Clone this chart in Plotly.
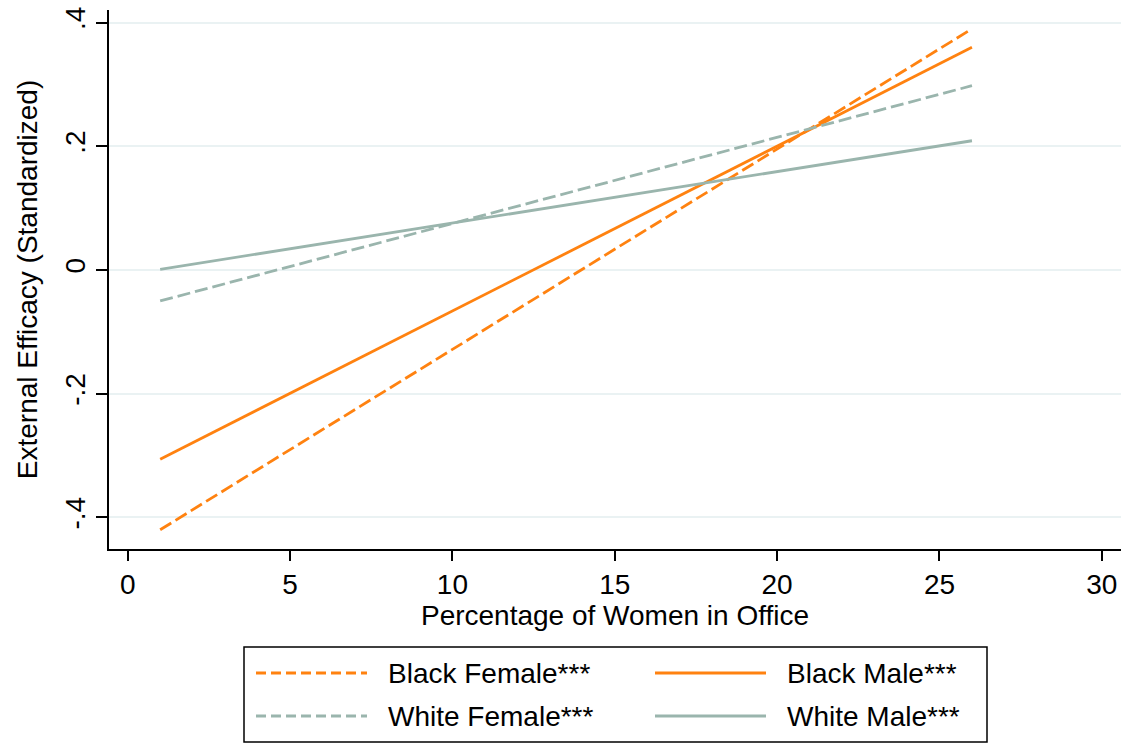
import plotly.graph_objects as go

# ---- data ----
series_names = ["Black Female***", "Black Male***", "White Female***", "White Male***"]
x_vals = [1, 26]
black_female = [-0.420, 0.390]
black_male = [-0.306, 0.360]
white_female = [-0.050, 0.298]
white_male = [0.001, 0.209]
x_ticks = [0, 5, 10, 15, 20, 25, 30]
y_ticks = [-0.4, -0.2, 0, 0.2, 0.4]
y_tick_labels = ["-.4", "-.2", "0", ".2", ".4"]

ORANGE = "#ff8210"
GREY = "#9ab5ad"
DASH = "13px,5px"
LEG_DASH = "10px,5px"
FONT = "Liberation Sans, Arial, sans-serif"
FS = 28
LW = 2.8

W, H = 1124, 743
L, R, T, B = 109, 3, 10, 194
PW, PH = W - L - R, H - T - B


def px(xp):
    return (xp - L) / PW


def py(yp):
    return (H - B - yp) / PH


styles = [
    (black_female, ORANGE, True),
    (black_male, ORANGE, False),
    (white_female, GREY, True),
    (white_male, GREY, False),
]

fig = go.Figure()
for name, (yv, col, dashed) in zip(series_names, styles):
    fig.add_trace(go.Scatter(x=x_vals, y=yv, mode="lines", name=name,
                             line=dict(color=col, width=LW,
                                       dash=DASH if dashed else "solid"),
                             showlegend=False))

fig.update_layout(
    width=W, height=H,
    margin=dict(l=L, r=R, t=T, b=B, pad=0),
    paper_bgcolor="white", plot_bgcolor="white",
    font=dict(family=FONT, size=FS, color="black"),
)
fig.update_xaxes(
    range=[-0.576, 30.59], tickvals=x_ticks, ticks="outside", ticklen=10,
    tickwidth=1.5, tickcolor="black", showline=True, linecolor="black",
    linewidth=1.5, showgrid=False, zeroline=False,
    title=dict(text="Percentage of Women in Office", standoff=0,
               font=dict(size=FS)),
    tickfont=dict(size=FS),
)
fig.update_yaxes(
    range=[-0.4511, 0.4204], tickvals=y_ticks, ticktext=y_tick_labels,
    ticks="outside", ticklen=11, tickwidth=1.5, tickcolor="black",
    showline=True, linecolor="black", linewidth=1.5,
    showgrid=True, gridcolor="#eaf2f3", gridwidth=2, zeroline=False,
    tickangle=-90,
    title=dict(text="External Efficacy (Standardized)", standoff=14,
               font=dict(size=FS)),
    tickfont=dict(size=FS),
)

# ---- legend (drawn manually, Stata style) ----
shapes = [dict(type="rect", xref="paper", yref="paper",
               x0=px(244), x1=px(987), y0=py(742), y1=py(647),
               line=dict(color="black", width=1.5), fillcolor="white")]
annotations = []
legend_pos = [(256, 367, 386, 673), (655, 766, 785, 673),
              (256, 367, 386, 716), (655, 766, 785, 716)]
for name, (yv, col, dashed), (lx0, lx1, tx, ly) in zip(series_names, styles, legend_pos):
    shapes.append(dict(type="line", xref="paper", yref="paper",
                       x0=px(lx0), x1=px(lx1), y0=py(ly), y1=py(ly),
                       line=dict(color=col, width=LW,
                                 dash=LEG_DASH if dashed else "solid")))
    annotations.append(dict(text=name, xref="paper", yref="paper",
                            x=px(tx), y=py(ly), xanchor="left", yanchor="middle",
                            showarrow=False, font=dict(size=FS, color="black")))
fig.update_layout(shapes=shapes, annotations=annotations)

fig.write_html("out.html", config={"displayModeBar": False},
               post_script="document.body.style.margin='0';document.body.style.overflow='hidden';")
